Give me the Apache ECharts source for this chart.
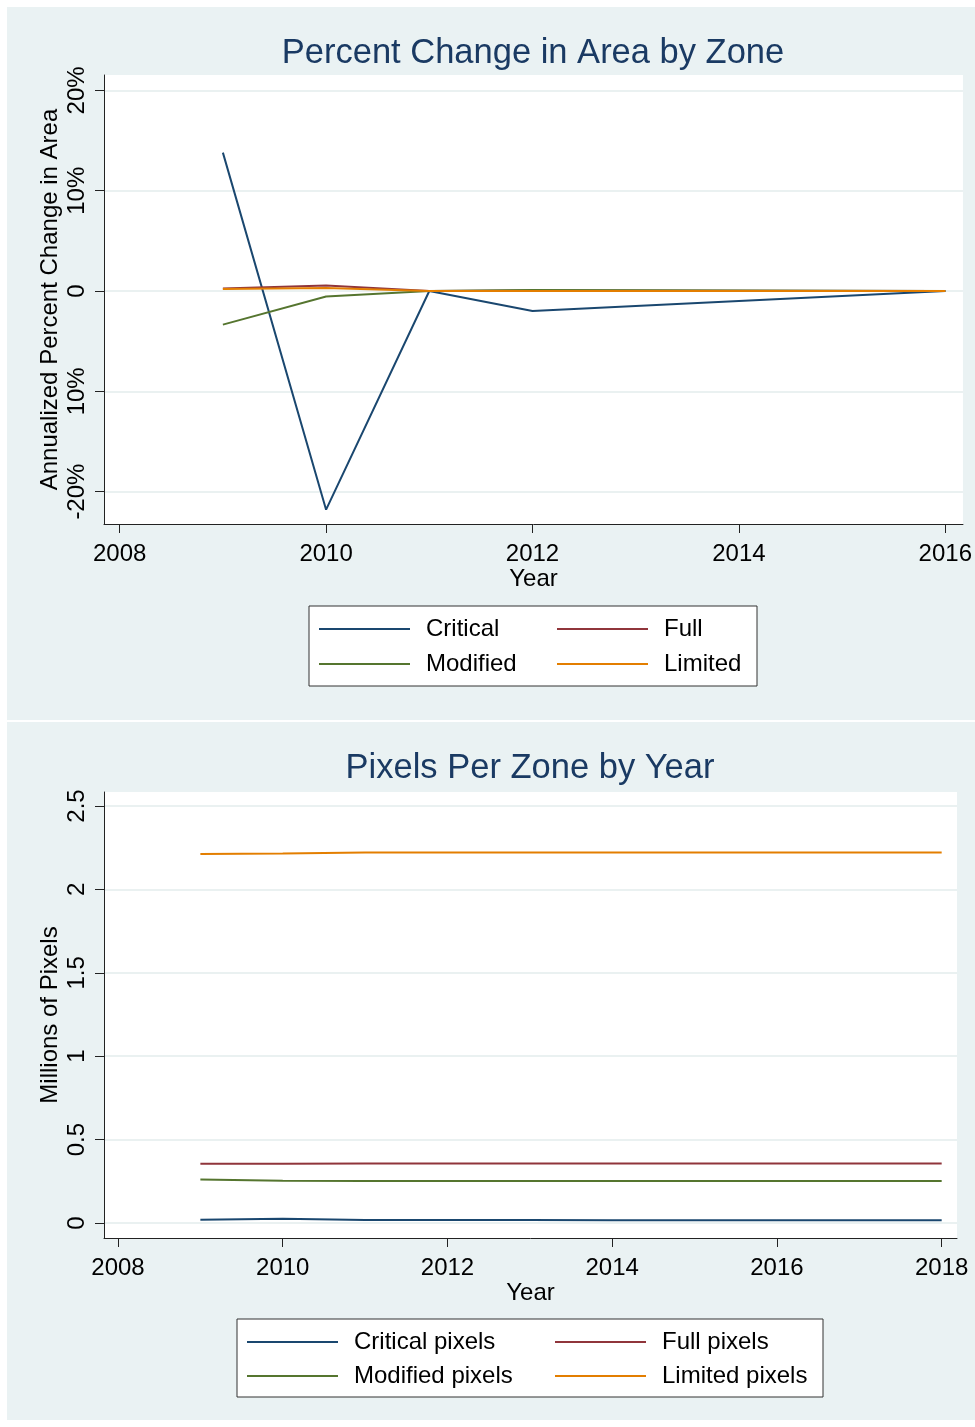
<!DOCTYPE html>
<html>
<head>
<meta charset="utf-8">
<script src="https://cdn.jsdelivr.net/npm/echarts@6/dist/echarts.min.js"></script>
<style>
  html, body { margin: 0; padding: 0; background: #ffffff; }
  #chart { width: 975px; height: 1427px; }
</style>
</head>
<body>
<div id="chart"></div>
<script>
// ---- Panel 1: annualized percent change in area ----
const changeYears = [2009, 2010, 2011, 2012, 2016];
const criticalChange = [13.8, -21.8, 0, -2.0, 0];
const fullChange = [0.25, 0.55, 0, 0.05, 0];
const modifiedChange = [-3.35, -0.55, 0, 0.1, 0];
const limitedChange = [0.2, 0.3, 0, 0, 0];
const changeXTicks = [2008, 2010, 2012, 2014, 2016];
const changeYTicks = [-20, -10, 0, 10, 20];
const changeYTickLabels = ['-20%', '10%', '0', '10%', '20%'];

// ---- Panel 2: pixels per zone (millions) ----
const pixelYears = [2009, 2010, 2011, 2012, 2013, 2014, 2015, 2016, 2017, 2018];
const criticalPixels = [0.020, 0.026, 0.018, 0.018, 0.018, 0.017, 0.017, 0.016, 0.016, 0.016];
const fullPixels = [0.355, 0.355, 0.356, 0.356, 0.356, 0.356, 0.356, 0.356, 0.356, 0.356];
const modifiedPixels = [0.260, 0.253, 0.252, 0.252, 0.252, 0.252, 0.252, 0.252, 0.252, 0.252];
const limitedPixels = [2.212, 2.216, 2.222, 2.222, 2.222, 2.222, 2.222, 2.222, 2.222, 2.222];
const pixelXTicks = [2008, 2010, 2012, 2014, 2016, 2018];
const pixelYTicks = [0, 0.5, 1, 1.5, 2, 2.5];
const pixelYTickLabels = ['0', '0.5', '1', '1.5', '2', '2.5'];

const COLORS = { Critical: '#1a476f', Full: '#90353b', Modified: '#55752f', Limited: '#e37e00' };
const PANEL_BG = '#eaf2f3';
const GRID_LINE = '#e3eced';
const AXIS_COLOR = '#222222';
const FONT = '"Liberation Sans", Arial, Helvetica, sans-serif';

const pairs = (xs, ys) => xs.map((x, i) => [x, ys[i]]);

function xAxisSpec(gridIndex, min, max, ticks) {
  return {
    type: 'value', gridIndex, min, max,
    name: 'Year', nameLocation: 'middle', nameGap: 43, nameMoveOverlap: false,
    nameTextStyle: { fontFamily: FONT, fontSize: 24, color: '#000' },
    axisLine: { show: true, onZero: false, lineStyle: { color: AXIS_COLOR, width: 1 } },
    axisTick: { show: true, length: 9, customValues: ticks, lineStyle: { color: AXIS_COLOR } },
    axisLabel: { customValues: ticks, margin: 18, fontFamily: FONT, fontSize: 24, color: '#000',
                 formatter: v => String(Math.round(v)) },
    splitLine: { show: false }
  };
}

function yAxisSpec(gridIndex, min, max, ticks, labels, name) {
  return {
    type: 'value', gridIndex, min, max,
    name, nameLocation: 'middle', nameGap: 42, nameRotate: 90, nameMoveOverlap: false,
    nameTextStyle: { fontFamily: FONT, fontSize: 24, color: '#000' },
    axisLine: { show: true, onZero: false, lineStyle: { color: AXIS_COLOR, width: 1 } },
    axisTick: { show: true, length: 9, customValues: ticks, lineStyle: { color: AXIS_COLOR } },
    axisLabel: { customValues: ticks, rotate: 90, margin: 15, fontFamily: FONT, fontSize: 24, color: '#000',
                 formatter: v => {
                   const i = ticks.findIndex(t => Math.abs(t - v) < 1e-9);
                   return i >= 0 ? labels[i] : '';
                 } },
    splitLine: { show: true, customValues: ticks, lineStyle: { color: GRID_LINE, width: 1.5 } }
  };
}

function lineSeries(name, data, axisIndex) {
  const c = COLORS[name.split(' ')[0]];
  return {
    type: 'line', name, data, xAxisIndex: axisIndex, yAxisIndex: axisIndex,
    showSymbol: false, symbol: 'none', smooth: false,
    lineStyle: { color: c, width: 2 },
    itemStyle: { color: c },
    emphasis: { disabled: true }, animation: false
  };
}

function legendSpec(name, left, top) {
  return {
    data: [name], left, top, padding: 0, orient: 'horizontal',
    icon: 'rect', itemWidth: 91, itemHeight: 2,
    textStyle: { fontFamily: FONT, fontSize: 24, color: '#000', padding: [0, 0, 0, 11] },
    selectedMode: false
  };
}

const chart = echarts.init(document.getElementById('chart'), null, { renderer: 'canvas' });

chart.setOption({
  backgroundColor: '#ffffff',
  animation: false,
  graphic: [
    { type: 'rect', z: -10, silent: true, shape: { x: 7, y: 7, width: 968, height: 713 }, style: { fill: PANEL_BG } },
    { type: 'rect', z: -10, silent: true, shape: { x: 7, y: 722, width: 968, height: 698 }, style: { fill: PANEL_BG } },
    { type: 'rect', z: -5, silent: true, shape: { x: 309, y: 606, width: 448, height: 80 },
      style: { fill: '#ffffff', stroke: '#333333', lineWidth: 1 } },
    { type: 'rect', z: -5, silent: true, shape: { x: 237, y: 1319, width: 586, height: 78 },
      style: { fill: '#ffffff', stroke: '#333333', lineWidth: 1 } },
    { type: 'text', silent: true, x: 533, y: 53,
      style: { text: 'Percent Change in Area by Zone', fontFamily: FONT, fontSize: 34.5, fill: '#1a3a63',
               textAlign: 'center', textVerticalAlign: 'middle' } },
    { type: 'text', silent: true, x: 530, y: 768,
      style: { text: 'Pixels Per Zone by Year', fontFamily: FONT, fontSize: 34.5, fill: '#1a3a63',
               textAlign: 'center', textVerticalAlign: 'middle' } }
  ],
  grid: [
    { left: 104, top: 75, width: 859, height: 449, show: true, backgroundColor: '#ffffff', borderWidth: 0, containLabel: false },
    { left: 104, top: 792, width: 853, height: 446, show: true, backgroundColor: '#ffffff', borderWidth: 0, containLabel: false }
  ],
  xAxis: [
    xAxisSpec(0, 2007.848, 2016.171, changeXTicks),
    xAxisSpec(1, 2007.83, 2018.186, pixelXTicks)
  ],
  yAxis: [
    yAxisSpec(0, -23.23, 21.54, changeYTicks, changeYTickLabels, 'Annualized Percent Change in Area'),
    yAxisSpec(1, -0.09, 2.584, pixelYTicks, pixelYTickLabels, 'Millions of Pixels')
  ],
  legend: [
    legendSpec('Critical', 319, 617),
    legendSpec('Full', 557, 617),
    legendSpec('Modified', 319, 652),
    legendSpec('Limited', 557, 652),
    legendSpec('Critical pixels', 247, 1330),
    legendSpec('Full pixels', 555, 1330),
    legendSpec('Modified pixels', 247, 1364),
    legendSpec('Limited pixels', 555, 1364)
  ],
  series: [
    lineSeries('Critical', pairs(changeYears, criticalChange), 0),
    lineSeries('Full', pairs(changeYears, fullChange), 0),
    lineSeries('Modified', pairs(changeYears, modifiedChange), 0),
    lineSeries('Limited', pairs(changeYears, limitedChange), 0),
    lineSeries('Critical pixels', pairs(pixelYears, criticalPixels), 1),
    lineSeries('Full pixels', pairs(pixelYears, fullPixels), 1),
    lineSeries('Modified pixels', pairs(pixelYears, modifiedPixels), 1),
    lineSeries('Limited pixels', pairs(pixelYears, limitedPixels), 1)
  ]
});
</script>
</body>
</html>
